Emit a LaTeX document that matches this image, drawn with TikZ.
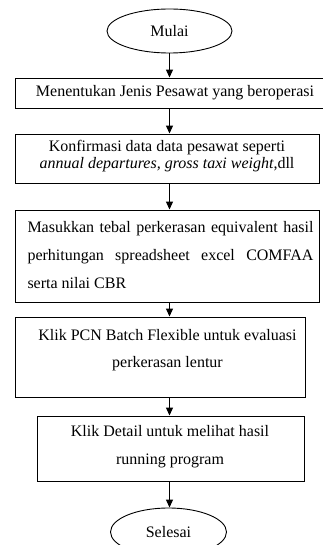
\documentclass[tikz,border=0pt]{standalone}
\usepackage{fontspec}
\setmainfont{Liberation Serif}
\usetikzlibrary{shapes.geometric,arrows.meta}
\tikzset{
  boxshape/.style={draw, line width=0.9pt, rectangle, inner sep=0pt},
  ovalshape/.style={draw, line width=0.9pt, ellipse, inner sep=0pt, font=\fontsize{16}{19}\selectfont},
  txt/.style={inner sep=0pt, align=center},
  arr/.style={line width=1.1pt, -{Triangle[length=8pt,width=7pt]}}
}
\begin{document}
\begin{tikzpicture}[x=1pt,y=-1pt]
\useasboundingbox (0,0) rectangle (323,545);
\clip (0,0) rectangle (323,545);
% terminals
\node[ovalshape, minimum width=125pt, minimum height=44pt] (mulai) at (169.5,31) {Mulai};
\node[ovalshape, minimum width=116pt, minimum height=48pt] (selesai) at (168.5,532) {Selesai};
% boxes
\node[boxshape, minimum width=320pt, minimum height=30pt] (b1) at (175,93) {};
\node[boxshape, minimum width=304pt, minimum height=49pt] (b2) at (167,158.5) {};
\node[boxshape, minimum width=304pt, minimum height=92pt] (b3) at (167,256) {};
\node[boxshape, minimum width=290pt, minimum height=80pt] (b4) at (160,357) {};
\node[boxshape, minimum width=267pt, minimum height=65pt] (b5) at (170.5,448.5) {};
% texts
\node[txt, font=\fontsize{16}{19}\selectfont] (t1) at (175,93) {Menentukan Jenis Pesawat yang beroperasi};
\node[txt, font=\fontsize{16}{17.5}\selectfont] (t2) at (167,156) {Konfirmasi data data pesawat seperti\\\textit{annual departures, gross taxi weight},dll};
\node[txt, align=justify, text width=286pt, font=\fontsize{16}{28}\selectfont] (t3) at (170.5,255) {Masukkan tebal perkerasan equivalent hasil\linebreak perhitungan spreadsheet excel COMFAA\linebreak serta nilai CBR};
\node[txt, font=\fontsize{16}{27.5}\selectfont] (t4) at (167.5,350) {Klik PCN Batch Flexible untuk evaluasi\\perkerasan lentur};
\node[txt, font=\fontsize{16}{28}\selectfont] (t5) at (170,447) {Klik Detail untuk melihat hasil\\running program};
% connectors
\draw[arr] (mulai.south) -- (b1.north -| mulai.south);
\draw[arr] (b1.south -| mulai.south) -- (b2.north -| mulai.south);
\draw[arr] (b2.south -| mulai.south) -- (b3.north -| mulai.south);
\draw[arr] (b3.south -| mulai.south) -- (b4.north -| mulai.south);
\draw[arr] (b4.south -| mulai.south) -- (b5.north -| mulai.south);
\draw[arr] (b5.south -| mulai.south) -- (selesai.north -| mulai.south);
\end{tikzpicture}
\end{document}
